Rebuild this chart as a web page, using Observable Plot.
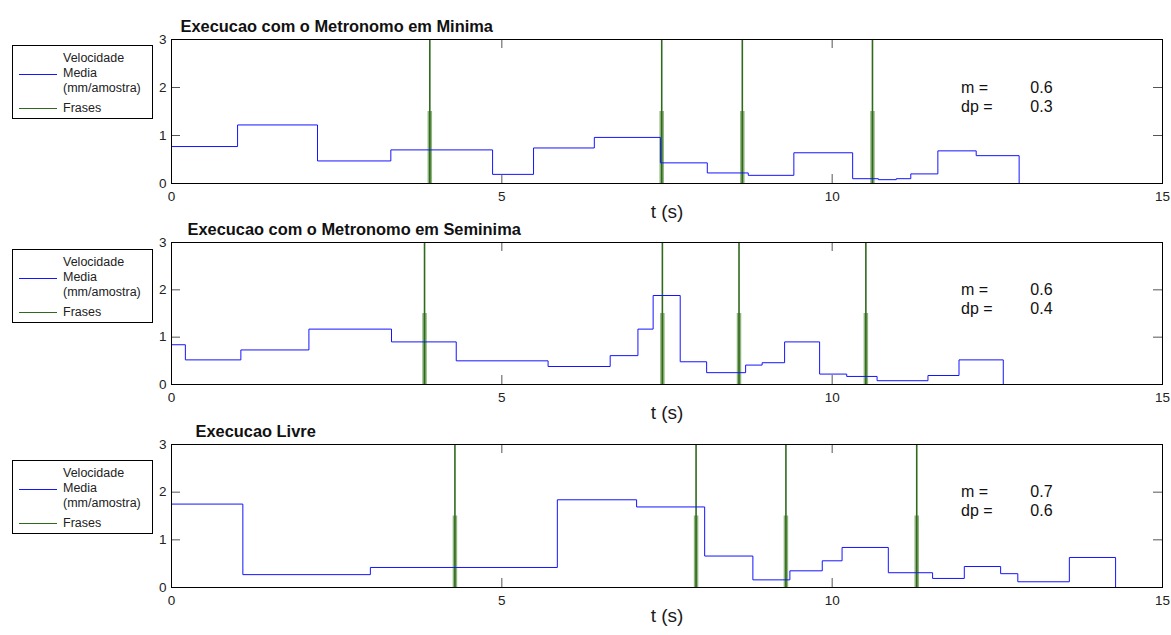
<!DOCTYPE html>
<html>
<head>
<meta charset="utf-8">
<script src="https://cdn.jsdelivr.net/npm/d3@7"></script>
<script src="https://cdn.jsdelivr.net/npm/@observablehq/plot@0.6"></script>
<style>
  body { margin: 0; background: white; font-family: "Liberation Sans", Arial, sans-serif; }
  #root { position: relative; width: 1171px; height: 635px; overflow: hidden; background: white; }
  .legend { position: absolute; left: 12px; width: 141px; height: 74px; border: 1px solid #000; background: white; box-sizing: border-box; }
  .legend .txt { position: absolute; left: 50px; font-size: 12.5px; line-height: 15px; color: #222; white-space: nowrap; }
  .legend .sample { position: absolute; left: 6px; width: 38px; height: 1px; }
</style>
</head>
<body>
<div id="root"></div>
<script>
// ---- Data ----
const titles = ["Execucao com o Metronomo em Minima", "Execucao com o Metronomo em Seminima", "Execucao Livre"];
const legendLabels = ["Velocidade\nMedia\n(mm/amostra)", "Frases"];
const xTicks = [0, 5, 10, 15];
const yTicks = [0, 1, 2, 3];
const xLabel = "t (s)";

// step series: start times and values of each step, and the end time
const t1 = [0, 1.00, 2.21, 3.32, 4.86, 5.48, 6.40, 7.40, 8.11, 8.73, 9.42, 10.31, 10.70, 10.97, 11.19, 11.60, 12.18];
const v1 = [0.77, 1.22, 0.47, 0.70, 0.19, 0.74, 0.96, 0.43, 0.22, 0.17, 0.64, 0.10, 0.08, 0.10, 0.20, 0.68, 0.58];
const end1 = 12.83;

const t2 = [0, 0.21, 1.05, 2.08, 3.33, 4.31, 5.70, 6.64, 7.06, 7.29, 7.70, 8.10, 8.69, 8.94, 9.28, 9.81, 10.22, 10.68, 11.45, 11.92];
const v2 = [0.84, 0.52, 0.73, 1.17, 0.90, 0.50, 0.38, 0.61, 1.17, 1.88, 0.48, 0.25, 0.41, 0.46, 0.90, 0.22, 0.17, 0.08, 0.19, 0.52];
const end2 = 12.59;

const t3 = [0, 1.08, 3.01, 5.84, 7.04, 8.07, 8.80, 9.36, 9.85, 10.15, 10.85, 11.52, 12.00, 12.55, 12.81, 13.59];
const v3 = [1.75, 0.27, 0.42, 1.84, 1.69, 0.66, 0.16, 0.35, 0.56, 0.84, 0.31, 0.19, 0.44, 0.29, 0.12, 0.63];
const end3 = 14.29;

// phrase boundaries (s)
const p1 = [3.91, 7.42, 8.64, 10.61];
const p2 = [3.83, 7.43, 8.59, 10.51];
const p3 = [4.29, 7.94, 9.30, 11.28];

// statistics
const mVals = ["0.6", "0.6", "0.7"];
const dpVals = ["0.3", "0.4", "0.6"];

// ---- Layout ----
const W = 1171;
const panels = [
  {t: t1, v: v1, end: end1, p: p1, top: 0, frameH: 144, legendTop: 45, titleDx: 9},
  {t: t2, v: v2, end: end2, p: p2, top: 203, frameH: 142, legendTop: 249, titleDx: 16},
  {t: t3, v: v3, end: end3, p: p3, top: 405, frameH: 143, legendTop: 460, titleDx: 24}
];
const SVG_H = 230, MT = 39, ML = 171, MR = 9;
const frameW = W - ML - MR;

const BLUE = "#1414ff";
const DARKGREEN = "#2f6a1c";
const LIGHTGREEN = "#8fb47e";

const root = document.getElementById("root");

panels.forEach((pn, i) => {
  const pts = pn.t.map((t, j) => ({t, v: pn.v[j]}));
  pts.push({t: pn.end, v: pn.v[pn.v.length - 1]});
  pts.push({t: pn.end, v: 0});

  const chart = Plot.plot({
    width: W,
    height: SVG_H,
    marginTop: MT,
    marginLeft: ML,
    marginRight: MR,
    marginBottom: SVG_H - MT - pn.frameH,
    style: {background: "transparent", overflow: "visible", fontFamily: "Liberation Sans, Arial, sans-serif"},
    x: {domain: [0, 15]},
    y: {domain: [0, 3]},
    marks: [
      Plot.ruleX(pn.p, {x: d => d, y1: 0, y2: 1.5, stroke: LIGHTGREEN, strokeWidth: 4.5}),
      Plot.ruleX(pn.p, {x: d => d, y1: 0, y2: 3, stroke: DARKGREEN, strokeWidth: 1.6}),
      Plot.line(pts, {x: "t", y: "v", curve: "step-after", stroke: BLUE, strokeWidth: 1}),
      Plot.tickX(xTicks, {x: d => d, insetTop: pn.frameH - 9, stroke: "#555"}),
      Plot.tickX(xTicks, {x: d => d, insetBottom: pn.frameH - 9, stroke: "#555"}),
      Plot.tickY(yTicks, {y: d => d, insetRight: frameW - 9, stroke: "#555"}),
      Plot.tickY(yTicks, {y: d => d, insetLeft: frameW - 9, stroke: "#555"}),
      Plot.frame({stroke: "#000"}),
      Plot.axisX({ticks: xTicks, tickSize: 0, tickPadding: 8, fontSize: 13.5, label: null, tickFormat: d => d, fill: "#222"}),
      Plot.axisY({ticks: yTicks, tickSize: 0, tickPadding: 5, fontSize: 13.5, label: null, tickFormat: d => d, fill: "#222"}),
      Plot.text([xLabel], {text: d => d, frameAnchor: "bottom", dy: 34, fontSize: 19, fill: "#1a1a1a"}),
      Plot.text([titles[i]], {text: d => d, frameAnchor: "top-left", dx: pn.titleDx, dy: -19, fontSize: 16.4, fontWeight: "bold", fill: "#111", textAnchor: "start"}),
      Plot.text(["m ="], {text: d => d, x: 11.95, y: 2.0, textAnchor: "start", fontSize: 16, fill: "#111"}),
      Plot.text(["dp ="], {text: d => d, x: 11.95, y: 1.6, textAnchor: "start", fontSize: 16, fill: "#111"}),
      Plot.text([mVals[i]], {text: d => d, x: 13.0, y: 2.0, textAnchor: "start", fontSize: 16, fill: "#111"}),
      Plot.text([dpVals[i]], {text: d => d, x: 13.0, y: 1.6, textAnchor: "start", fontSize: 16, fill: "#111"})
    ]
  });
  chart.style.top = pn.top + "px";
  chart.style.position = "absolute";
  chart.style.left = "0px";
  root.appendChild(chart);

  // legend
  const lg = document.createElement("div");
  lg.className = "legend";
  lg.style.top = pn.legendTop + "px";
  const lines = legendLabels[0].split("\n");
  lines.forEach((ln, k) => {
    const d = document.createElement("div");
    d.className = "txt";
    d.style.top = (5 + k * 15) + "px";
    d.textContent = ln;
    lg.appendChild(d);
  });
  const f = document.createElement("div");
  f.className = "txt";
  f.style.top = "55px";
  f.textContent = legendLabels[1];
  lg.appendChild(f);
  const s1 = document.createElement("div");
  s1.className = "sample";
  s1.style.top = "28px";
  s1.style.background = BLUE;
  lg.appendChild(s1);
  const s2 = document.createElement("div");
  s2.className = "sample";
  s2.style.top = "62px";
  s2.style.background = DARKGREEN;
  lg.appendChild(s2);
  root.appendChild(lg);
});
</script>
</body>
</html>
